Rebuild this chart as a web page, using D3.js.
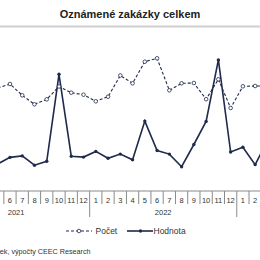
<!DOCTYPE html>
<html>
<head>
<meta charset="utf-8">
<script src="https://cdn.jsdelivr.net/npm/d3@7"></script>
<style>
  body { margin: 0; background: #fff; }
  svg { display: block; font-family: "Liberation Sans", Arial, sans-serif; }
</style>
</head>
<body>
<div id="chart"></div>
<script>
// months shown (crop of a longer series), May 2021 .. Mar 2023
var months = ["5","6","7","8","9","10","11","12",
              "1","2","3","4","5","6","7","8","9","10","11","12",
              "1","2","3"];
var years = ["2021","2021","2021","2021","2021","2021","2021","2021",
             "2022","2022","2022","2022","2022","2022","2022","2022","2022","2022","2022","2022",
             "2023","2023","2023"];
// Počet (number of announced contracts)
var pocet = [1030,1070,957,867,917,1045,983,963,
             897,943,1155,1077,1293,1327,1007,1077,1080,918,1117,830,
             1047,1050,1050];
// Hodnota (value, bn CZK)
var hodnota = [9.0,11.2,11.7,8.6,9.9,38.9,11.6,11.3,
               13.2,10.9,12.3,10.4,23.3,13.5,12.3,8.1,15.5,23.2,43.7,13.0,
               14.6,8.8,16.7];
var yearLabels = ["2021","2022"];

var W = 260, H = 260;
var navy = "#1f2a4c";
var axisY = 191;

var svg = d3.select("#chart").append("svg")
  .attr("width", W).attr("height", H);

svg.append("text")
  .attr("x", 130).attr("y", 18)
  .attr("text-anchor", "middle")
  .style("font-size", "11px").style("font-weight", "bold")
  .style("fill", "#222")
  .text("Oznámené zakázky celkem");

svg.append("line")
  .attr("x1", 0).attr("x2", W).attr("y1", 26.5).attr("y2", 26.5)
  .style("stroke", "#cfcfcf").style("stroke-width", 2);

var keys = months.map(function(m, i) { return years[i] + "-" + m; });
var step = 12.26;
var x = d3.scaleBand().domain(keys)
  .range([-2.3 - step / 2, -2.3 - step / 2 + step * keys.length]);
function cx(i) { return x(keys[i]) + x.bandwidth() / 2; }

var yP = d3.scaleLinear().domain([0, 1500]).range([axisY, 41]);
var yH = d3.scaleLinear().domain([0, 50]).range([axisY, 41]);

// x axis: horizontal line, separators between months, longer at year breaks
var ax = svg.append("g");
ax.append("line").attr("x1", 0).attr("x2", W).attr("y1", axisY).attr("y2", axisY)
  .style("stroke", "#8a8a8a").style("stroke-width", 1);

ax.selectAll(".sep").data(keys).enter().append("line")
  .attr("x1", function(d) { return x(d); })
  .attr("x2", function(d) { return x(d); })
  .attr("y1", axisY)
  .attr("y2", function(d, i) { return months[i] === "1" ? 217 : 204; })
  .style("stroke", "#8a8a8a").style("stroke-width", 1);

ax.selectAll(".mlab").data(keys).enter().append("text")
  .attr("x", function(d, i) { return cx(i); })
  .attr("y", 202.5)
  .attr("text-anchor", "middle")
  .style("font-size", "7.5px").style("fill", "#333")
  .text(function(d, i) { return months[i]; });

ax.selectAll(".ylab").data(yearLabels).enter().append("text")
  .attr("x", function(yr) {
    var first = x(yr + "-1"), last = x(yr + "-12");
    if (first === undefined) first = x(yr + "-5") - 4 * step;
    return (first + last + step) / 2;
  })
  .attr("y", 215)
  .attr("text-anchor", "middle")
  .style("font-size", "7.5px").style("fill", "#333")
  .text(function(d) { return d; });

// Počet dashed line with open circles
var lineP = d3.line().x(function(d, i) { return cx(i); }).y(function(d) { return yP(d); });
svg.append("path").datum(pocet).attr("d", lineP)
  .style("fill", "none").style("stroke", navy).style("stroke-width", 1.1)
  .style("stroke-dasharray", "3,2");

// Hodnota solid line with dots
var lineH = d3.line().x(function(d, i) { return cx(i); }).y(function(d) { return yH(d); });
svg.append("path").datum(hodnota).attr("d", lineH)
  .style("fill", "none").style("stroke", navy).style("stroke-width", 1.6);

svg.selectAll(".pp").data(pocet).enter().append("circle")
  .attr("cx", function(d, i) { return cx(i); })
  .attr("cy", function(d) { return yP(d); })
  .attr("r", 1.8)
  .style("fill", "#fff").style("stroke", navy).style("stroke-width", 0.8);

svg.selectAll(".hp").data(hodnota).enter().append("circle")
  .attr("cx", function(d, i) { return cx(i); })
  .attr("cy", function(d) { return yH(d); })
  .attr("r", 1.7)
  .style("fill", navy);

// legend
var lg = svg.append("g");
lg.append("line").attr("x1", 66).attr("x2", 92).attr("y1", 231).attr("y2", 231)
  .style("stroke", navy).style("stroke-width", 1.1).style("stroke-dasharray", "3,2");
lg.append("circle").attr("cx", 79).attr("cy", 231).attr("r", 1.8)
  .style("fill", "#fff").style("stroke", navy).style("stroke-width", 0.8);
lg.append("text").attr("x", 95.5).attr("y", 234)
  .style("font-size", "8.5px").style("fill", "#333").text("Počet");
lg.append("line").attr("x1", 127).attr("x2", 153).attr("y1", 231).attr("y2", 231)
  .style("stroke", navy).style("stroke-width", 1.6);
lg.append("circle").attr("cx", 140.5).attr("cy", 231).attr("r", 1.7).style("fill", navy);
lg.append("text").attr("x", 153.5).attr("y", 234)
  .style("font-size", "8.5px").style("fill", "#333").text("Hodnota");

svg.append("text")
  .attr("x", 90.5).attr("y", 254)
  .attr("text-anchor", "end")
  .style("font-size", "7.2px").style("fill", "#333")
  .text("Zdroj: Věstník veřejných zakázek, výpočty CEEC Research");
</script>
</body>
</html>
